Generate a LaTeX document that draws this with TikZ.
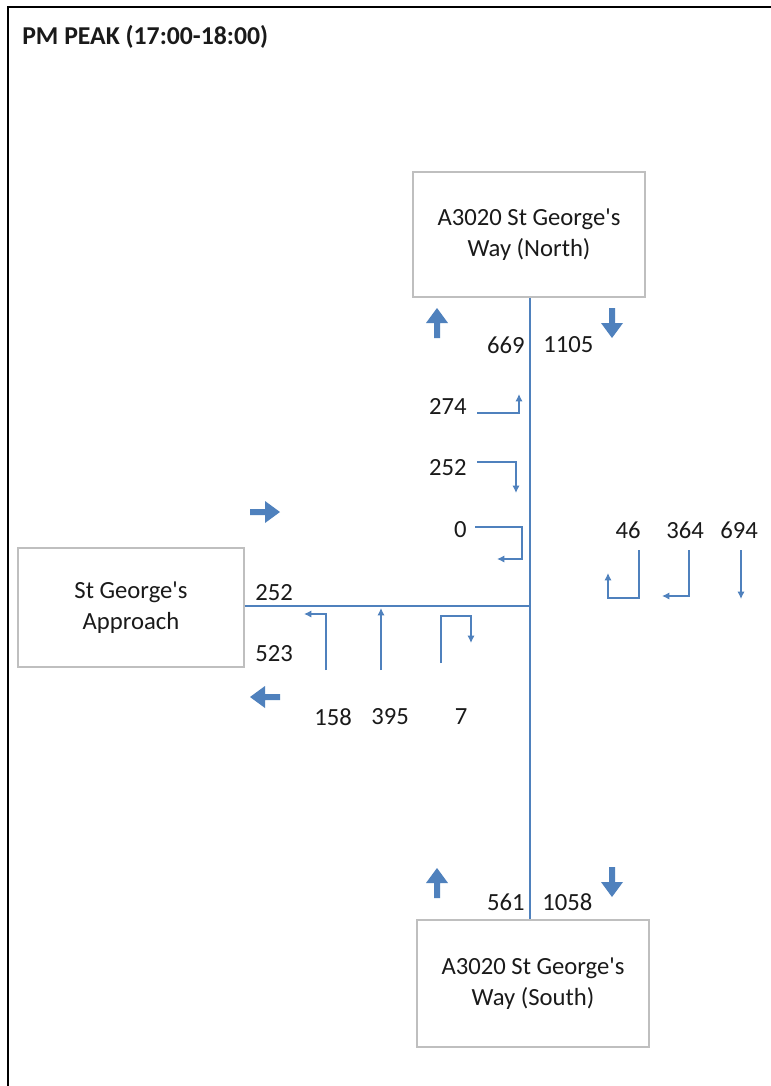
\documentclass[tikz,border=0pt]{standalone}
\usepackage{fontspec}
\setmainfont{Carlito}
\usetikzlibrary{arrows.meta}
\definecolor{roadblue}{HTML}{4F81BD}
\definecolor{boxgray}{HTML}{BFBFBF}
\definecolor{txt}{HTML}{1A1A1A}
\newcommand{\apos}{\textquotesingle}
\tikzset{
  road/.style={draw=roadblue, line width=1.6pt},
  turn/.style={draw=roadblue, line width=1.2pt, -{Latex[length=5.5pt,width=5.5pt]}},
  armbox/.style={draw=boxgray, line width=1.1pt, fill=white, align=center, text=txt, inner sep=0pt},
  num/.style={text=txt, inner sep=0pt},
  bigarrow/.pic={\fill[roadblue] (0,0) -- (11,15) -- (3,15) -- (3,30) -- (-3,30) -- (-3,15) -- (-11,15) -- cycle;}
}
\begin{document}
\begin{tikzpicture}[x=0.75pt, y=-0.75pt, font=\fontsize{18.5}{23.5}\selectfont]
\useasboundingbox (0,0) rectangle (771,1086);
\clip (0,0) rectangle (771,1086);
\fill[white] (0,0) rectangle (771,1086);
% frame
\draw[black, line width=1.9pt] (8,1100) -- (8,7) -- (790,7);
\node[anchor=west, text=txt, inner sep=0pt, font=\fontsize{19.3}{22}\selectfont\bfseries] (title) at (22,37) {PM PEAK (17:00-18:00)};
% arm boxes
\node[armbox, minimum width=174pt, minimum height=94pt] (north) at (529,234.5) {\raisebox{-1.5pt}{\parbox{170pt}{\centering A3020 St George\apos s\\Way (North)}}};
\node[armbox, minimum width=174pt, minimum height=95pt] (south) at (533,983.5) {\raisebox{-1.5pt}{\parbox{170pt}{\centering A3020 St George\apos s\\Way (South)}}};
\node[armbox, minimum width=169.5pt, minimum height=89pt] (west) at (131,607.5) {\raisebox{-1.5pt}{\parbox{165pt}{\centering St George\apos s\\Approach}}};
% roads
\coordinate (jn) at (530,606);
\draw[road] (north.south -| jn) -- (south.north -| jn);
\draw[road] (west.east |- jn) -- (jn);
% big block arrows
\pic at (437,308) {bigarrow};
\pic[rotate=180] at (612,338) {bigarrow};
\pic at (437,868) {bigarrow};
\pic[rotate=180] at (612,897) {bigarrow};
\pic[rotate=-90] at (280,512) {bigarrow};
\pic[rotate=90] at (250,697) {bigarrow};
% arm totals
\node[num, anchor=east] (n669) at (525,345) {669};
\node[num, anchor=west] (n1105) at (543,345) {1105};
\node[num, anchor=east] (n561) at (525,902) {561};
\node[num, anchor=west] (n1058) at (542,902) {1058};
\node[num, anchor=west] (w252) at (255,593) {252};
\node[num, anchor=west] (w523) at (255,654) {523};
% north approach turns
\node[num, anchor=east] (t274) at (467,406) {274};
\draw[turn] (477,413) -- (519,413) -- (519,394);
\node[num, anchor=east] (t252) at (467,468) {252};
\draw[turn] (477,462) -- (516,462) -- (516,493);
\node[num, anchor=east] (t0) at (467,530) {0};
\draw[turn] (475,527) -- (522,527) -- (522,559) -- (497,559);
% east side movements
\node[num] (e46) at (628,530) {46};
\node[num] (e364) at (685,530) {364};
\node[num] (e694) at (739,530) {694};
\draw[turn] (639,550) -- (639,598) -- (608,598) -- (608,573);
\draw[turn] (689,550) -- (689,596) -- (662,596);
\draw[turn] (741,550) -- (741,599);
% west approach (from south) movements
\draw[turn] (326,670) -- (326,614) -- (304,614);
\draw[turn] (381,670) -- (381,608);
\draw[turn] (441,663) -- (441,616) -- (471,616) -- (471,643);
\node[num] (s158) at (333,717) {158};
\node[num] (s395) at (390,717) {395};
\node[num] (s7) at (461,717) {7};
\end{tikzpicture}
\end{document}
